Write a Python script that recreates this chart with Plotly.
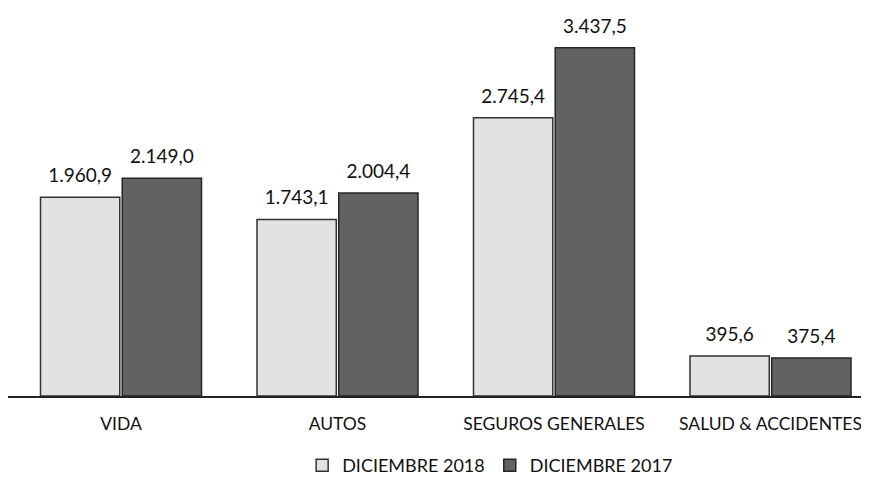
import plotly.graph_objects as go

categorias = ["VIDA", "AUTOS", "SEGUROS GENERALES", "SALUD & ACCIDENTES"]
dic_2018 = [1960.9, 1743.1, 2745.4, 395.6]
dic_2017 = [2149.0, 2004.4, 3437.5, 375.4]


def fmt(v):
    # formato espanol: punto miles, coma decimal
    s = "{:,.1f}".format(v)
    return s.replace(",", "X").replace(".", ",").replace("X", ".")


fig = go.Figure()

series = [
    ("DICIEMBRE 2018", dic_2018, "#e2e2e2", "#333333", "g18"),
    ("DICIEMBRE 2017", dic_2017, "#626262", "#252525", "g17"),
]

for nombre, vals, col, borde, grp in series:
    fig.add_trace(go.Bar(
        x=categorias, y=vals, name=nombre,
        offsetgroup=grp, alignmentgroup="a",
        marker=dict(color=col, line=dict(color=borde, width=1.5)),
    ))

# etiquetas de valor, un poco separadas de la barra
for nombre, vals, col, borde, grp in series:
    fig.add_trace(go.Scatter(
        x=categorias, y=vals, mode="markers+text",
        offsetgroup=grp, alignmentgroup="a",
        marker=dict(size=15, opacity=0),
        text=[fmt(v) for v in vals], textposition="top center",
        textfont=dict(size=19, color="#111"),
        showlegend=False, hoverinfo="skip", cliponaxis=False,
    ))

# la pagina tiene 8px de margen en el body
fig.update_layout(
    width=869, height=490,
    margin=dict(l=0, r=8, t=2, b=102),
    paper_bgcolor="white", plot_bgcolor="white",
    font=dict(family="Lato, Carlito, sans-serif", size=18, color="#111"),
    barmode="group", bargap=0.245, bargroupgap=0.03,
    scattermode="group", scattergap=0.245,
    xaxis=dict(range=[-0.522, 3.455], showline=True, linecolor="#222",
               linewidth=2, ticks="", tickfont=dict(size=17.5),
               ticklabelstandoff=11),
    yaxis=dict(range=[0, 3810], visible=False, showgrid=False),
    legend=dict(orientation="h", x=0.56, xanchor="center", y=-0.132,
                yanchor="top", font=dict(size=18), itemwidth=30),
    showlegend=True,
)

fig.write_html("out.html")
